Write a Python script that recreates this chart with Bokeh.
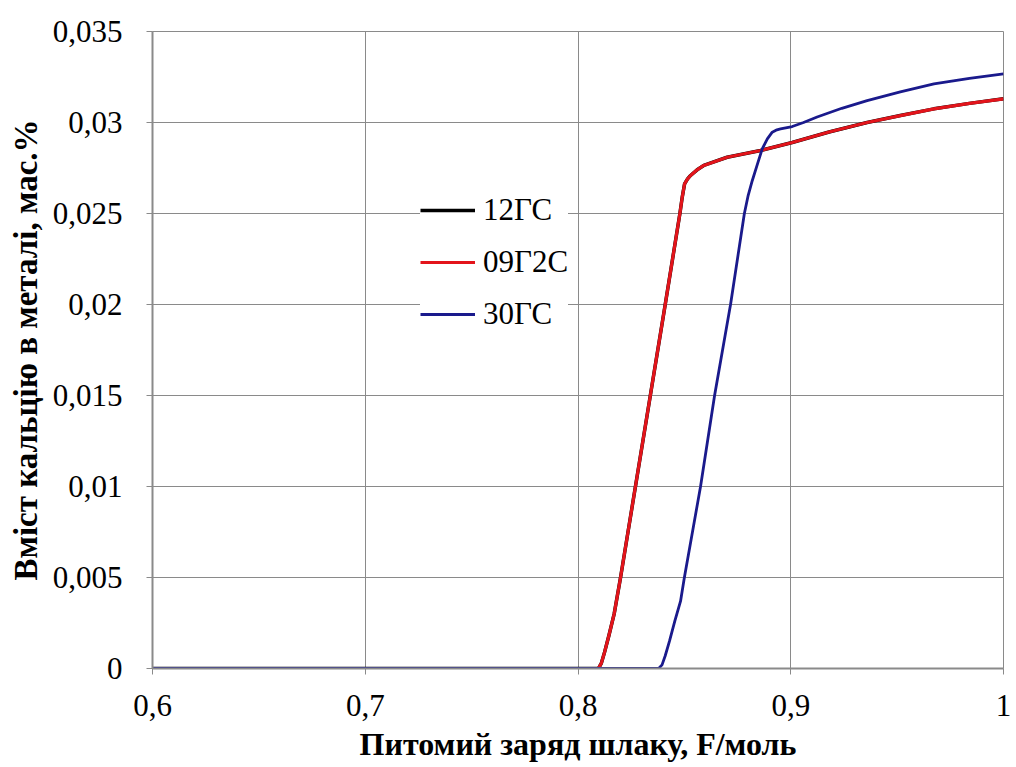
from bokeh.plotting import figure
from bokeh.models import (Range1d, FixedTicker, CustomJSTickFormatter, Legend, LegendItem)
from bokeh.embed import file_html
from bokeh.resources import INLINE

# ---- data ----
x_12GS = [0.6, 0.70, 0.80, 0.8096, 0.8110, 0.8125, 0.8145, 0.817, 0.820, 0.827, 0.834, 0.841,
          0.8479, 0.8490, 0.8501, 0.8515, 0.8529, 0.856, 0.8591, 0.8701, 0.8858, 0.9007,
          0.918, 0.9359, 0.9515, 0.9673, 0.984, 1.0]
y_12GS = [0.0, 0.0, 0.0, 0.0, 0.0003, 0.0009, 0.0018, 0.0030, 0.0050, 0.0100, 0.0150, 0.0200,
          0.0250, 0.0259, 0.02663, 0.0269, 0.02709, 0.0274, 0.02764, 0.02809, 0.02846, 0.0289,
          0.02948, 0.0300, 0.03038, 0.03075, 0.03105, 0.0313]

x_09G2S = [0.6, 0.70, 0.80, 0.8096, 0.8110, 0.8125, 0.8145, 0.817, 0.820, 0.827, 0.834, 0.841,
           0.8479, 0.8490, 0.8501, 0.8515, 0.8529, 0.856, 0.8591, 0.8701, 0.8858, 0.9007,
           0.918, 0.9359, 0.9515, 0.9673, 0.984, 1.0]
y_09G2S = [0.0, 0.0, 0.0, 0.0, 0.0003, 0.0009, 0.0018, 0.0030, 0.0050, 0.0100, 0.0150, 0.0200,
           0.0250, 0.0259, 0.02663, 0.0269, 0.02709, 0.0274, 0.02764, 0.02809, 0.02846, 0.0289,
           0.02948, 0.0300, 0.03038, 0.03075, 0.03105, 0.0313]

x_30GS = [0.6, 0.70, 0.80, 0.8379, 0.8395, 0.841, 0.843, 0.8455, 0.8482, 0.850, 0.8576, 0.8642,
          0.8717, 0.8782, 0.8800, 0.8819, 0.8843, 0.8866, 0.8890, 0.8913, 0.8935, 0.8952,
          0.9007, 0.906, 0.9124, 0.924, 0.9359, 0.9515, 0.9673, 0.984, 1.0]
y_30GS = [0.0, 0.0, 0.0, 0.0, 0.0002, 0.0007, 0.0015, 0.0026, 0.0037, 0.0050, 0.0100, 0.0150,
          0.0200, 0.0250, 0.0260, 0.0268, 0.0277, 0.02855, 0.0291, 0.02947, 0.0296, 0.02965,
          0.02978, 0.0300, 0.0303, 0.03078, 0.0312, 0.03168, 0.03212, 0.03243, 0.03267]

series_names = ["12ГС", "09Г2С", "30ГС"]
x_ticks = [0.6, 0.7, 0.8, 0.9, 1.0]
y_ticks = [0.0, 0.005, 0.01, 0.015, 0.02, 0.025, 0.03, 0.035]

x_title = "Питомий заряд шлаку, F/моль"
y_title = "Вміст кальцію в металі, мас.%"

FONT = "Liberation Serif"
GRID = "#8a8a8a"

p = figure(frame_width=851, frame_height=637,
           min_border_left=152, min_border_top=31, min_border_right=8, min_border_bottom=0,
           x_range=Range1d(0.6, 1.0), y_range=Range1d(0.0, 0.035),
           output_backend="svg", toolbar_location=None)

p.background_fill_color = "white"
p.border_fill_color = "white"
p.outline_line_color = GRID
p.outline_line_width = 1

fmt = CustomJSTickFormatter(code="""
    var s = parseFloat(tick.toFixed(4)).toString();
    return s.replace('.', ',');
""")

for ax, ticks in ((p.xaxis[0], x_ticks), (p.yaxis[0], y_ticks)):
    ax.ticker = FixedTicker(ticks=ticks)
    ax.formatter = fmt
    ax.axis_line_color = GRID
    ax.axis_line_width = 2
    ax.major_tick_line_color = GRID
    ax.major_tick_line_width = 1
    ax.major_tick_out = 6
    ax.major_tick_in = 0
    ax.minor_tick_out = 0
    ax.minor_tick_in = 0
    ax.major_label_text_font = FONT
    ax.major_label_text_font_size = "31px"
    ax.major_label_text_color = "black"
    ax.axis_label_text_font = FONT
    ax.axis_label_text_font_style = "bold"
    ax.axis_label_text_color = "black"

p.xaxis.axis_label = x_title
p.yaxis.axis_label = y_title
p.xaxis.axis_label_text_font_size = "32px"
p.yaxis.axis_label_text_font_size = "33px"
p.xaxis.major_label_standoff = 20
p.xaxis.axis_label_standoff = 7
p.yaxis.major_label_standoff = 24
p.yaxis.axis_label_standoff = 6

p.xgrid.ticker = FixedTicker(ticks=x_ticks)
p.ygrid.ticker = FixedTicker(ticks=y_ticks)
p.grid.grid_line_color = GRID
p.grid.grid_line_width = 1

r1 = p.line(x_12GS, y_12GS, line_color="black", line_width=3.5, line_join="round")
r2 = p.line(x_09G2S, y_09G2S, line_color="#e3141b", line_width=3.2, line_join="round")
r3 = p.line(x_30GS, y_30GS, line_color="#1a1a8c", line_width=2.8, line_join="round")

legend = Legend(items=[LegendItem(label=series_names[0], renderers=[r1]),
                       LegendItem(label=series_names[1], renderers=[r2]),
                       LegendItem(label=series_names[2], renderers=[r3])],
                location=(268, 336), orientation="vertical",
                border_line_color=None, background_fill_color="white",
                background_fill_alpha=1.0,
                label_text_font=FONT, label_text_font_size="31px",
                label_text_color="black",
                glyph_width=55, glyph_height=30, label_height=30,
                label_standoff=8, spacing=16, padding=10, margin=0)
p.add_layout(legend, "center")

open("out.html", "w").write(file_html(p, INLINE))
